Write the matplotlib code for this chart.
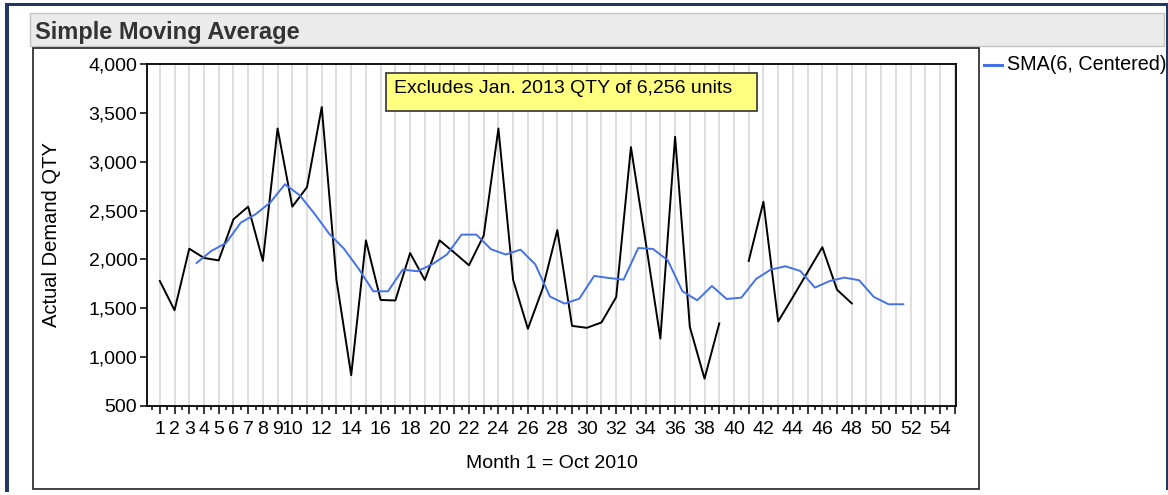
import numpy as np
import matplotlib
matplotlib.use("Agg")
import matplotlib.pyplot as plt
from matplotlib.patches import Rectangle
from matplotlib.lines import Line2D
from matplotlib.ticker import FixedLocator, FuncFormatter

plt.rcParams['font.family'] = ['Liberation Sans', 'DejaVu Sans']

# Monthly actual demand (month 40 has no value)
months = np.arange(1, 49)
demand = [1780, 1480, 2110, 2015, 1990, 2410, 2540, 1985, 3340, 2540,
          2740, 3560, 1790, 815, 2195, 1585, 1580, 2065, 1790, 2195,
          2070, 1940, 2245, 3340, 1790, 1290, 1700, 2300, 1320, 1300,
          1355, 1615, 3150, 2180, 1190, 3255, 1310, 780, 1345, np.nan,
          1985, 2590, 1365, 1615, 1870, 2125, 1690, 1550]

# 6-month centered simple moving average, placed at half months
sma_months = np.arange(3.5, 52.0, 1.0)
sma = [1964, 2087, 2168, 2377, 2462, 2582, 2769, 2657, 2469, 2264,
       2111, 1906, 1674, 1674, 1896, 1879, 1950, 2050, 2254, 2254,
       2104, 2050, 2100, 1950, 1620, 1548, 1599, 1831, 1810, 1793,
       2117, 2107, 1991, 1674, 1582, 1728, 1595, 1609, 1800, 1896,
       1930, 1882, 1712, 1779, 1814, 1787, 1616, 1541, 1541]

x_tick_values = list(range(1, 11)) + list(range(12, 55, 2))
y_tick_values = [500, 1000, 1500, 2000, 2500, 3000, 3500, 4000]

title = "Simple Moving Average"
note = "Excludes Jan. 2013 QTY of 6,256 units"
legend_label = "SMA(6, Centered)"
x_label = "Month 1 = Oct 2010"
y_label = "Actual Demand QTY"

W, H = 1168, 495
fig = plt.figure(figsize=(W / 100, H / 100), dpi=100)
fig.patch.set_facecolor('white')


def fx(px):
    return px / W


def fy(py):
    return 1 - py / H


def rect(x0, y0, x1, y1, zorder=0.1, **kw):
    r = Rectangle((fx(x0), fy(y1)), fx(x1) - fx(x0), fy(y0) - fy(y1),
                  transform=fig.transFigure, zorder=zorder, **kw)
    fig.add_artist(r)
    return r


navy = '#1F3864'
# outer frame
rect(5, 2.5, 1168, 5.5, facecolor=navy, edgecolor='none')
rect(5, 2.5, 9, 492, facecolor=navy, edgecolor='none')
rect(1165.5, 2.5, 1168, 490, facecolor=navy, edgecolor='none')

# title bar
rect(30, 12.5, 1164, 45.5, facecolor='#EBEBEB', edgecolor='#C4C4C4', linewidth=1.0)
fig.text(fx(35), fy(38.5), title, fontsize=17, fontweight='bold',
         color='#333333', ha='left', va='baseline', zorder=3)

# chart panel
rect(33, 48.5, 979, 489, facecolor='white', edgecolor='#222222', linewidth=1.2)

# plot area
L, R, T, B = 147, 956, 64, 406
ax = fig.add_axes([fx(L), fy(B), fx(R) - fx(L), fy(T) - fy(B)])
ax.set_zorder(2)
ax.set_facecolor('white')

ax.set_xlim(0.13, 55.08)
ax.set_ylim(500, 4000)

for m in range(1, 56):
    ax.axvline(m, color='#D6D6D6', linewidth=1.1, zorder=0)

ax.plot(months, demand, color='black', linewidth=1.4, zorder=3)
ax.plot(sma_months, sma, color='#4472E4', linewidth=1.4, zorder=4)

ax.xaxis.set_major_locator(FixedLocator(list(range(1, 56))))
ax.xaxis.set_minor_locator(FixedLocator([m + 0.5 for m in range(0, 55)]))
ax.xaxis.set_major_formatter(FuncFormatter(
    lambda v, p: str(int(round(v))) if int(round(v)) in x_tick_values else ''))
ax.yaxis.set_major_locator(FixedLocator(y_tick_values))
ax.yaxis.set_major_formatter(FuncFormatter(lambda v, p: f"{int(v):,}"))

ax.tick_params(axis='x', which='major', direction='out', length=5.5, width=1.1,
               labelsize=14, pad=5, colors='black')
ax.tick_params(axis='x', which='minor', direction='out', length=3, width=1.1)
ax.tick_params(axis='y', which='major', direction='out', length=5, width=1.1,
               labelsize=14, pad=2, colors='black')
for s in ax.spines.values():
    s.set_linewidth(1.3)
    s.set_color('black')

# axis titles
fig.text(fx(552), fy(468), x_label, fontsize=14, ha='center', va='baseline', zorder=3)
fig.text(fx(52), fy(235), y_label, fontsize=14.5, rotation=90,
         ha='center', va='center', zorder=3)

# note box
rect(385.5, 73.5, 756.5, 110.5, zorder=5, facecolor='#FFFF80', edgecolor='#333333',
     linewidth=1.2)
fig.text(fx(394), fy(93), note, fontsize=14, ha='left', va='baseline', zorder=6)

# legend entry
fig.add_artist(Line2D([fx(984), fx(1002)], [fy(65), fy(65)], color='#4472E4',
                      linewidth=2.2, transform=fig.transFigure, zorder=3))
fig.text(fx(1007), fy(65), legend_label, fontsize=14.2, ha='left', va='center', zorder=3)

fig.savefig("out.png", dpi=100)
